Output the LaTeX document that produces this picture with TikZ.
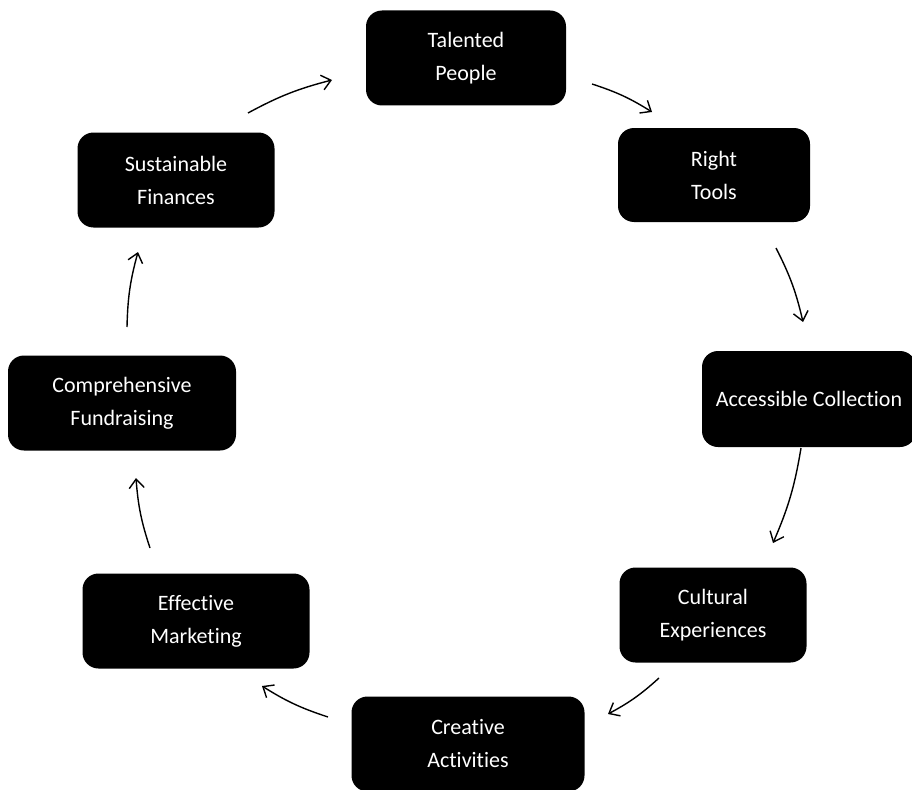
\documentclass[tikz,border=0pt]{standalone}
\usepackage{fontspec}
\setmainfont[Ligatures=NoCommon]{Carlito}
\usetikzlibrary{calc,arrows.meta}
\begin{document}
\begin{tikzpicture}[x=1pt,y=1pt,
  box/.style={fill=black, rounded corners=16pt, text=white, align=center,
    inner sep=0pt, font=\fontsize{22}{33}\selectfont},
  arr/.style={line width=1.4pt, -{Straight Barb[length=9pt,width=15pt,line width=1.4pt]}, bend left=7}]
\useasboundingbox (0,0) rectangle (912,-789);
\node[box, minimum width=200pt, minimum height=95pt] (tp) at (466,-58) {Talented\\People};
\node[box, minimum width=192pt, minimum height=94pt] (rt) at (714,-175) {Right\\Tools};
\node[box, minimum width=214pt, minimum height=96pt] (ac) at (809,-399) {Accessible Collection};
\node[box, minimum width=187pt, minimum height=95pt] (ce) at (713,-615) {Cultural\\Experiences};
\node[box, minimum width=233pt, minimum height=95pt] (ca) at (468,-744) {Creative\\Activities};
\node[box, minimum width=227pt, minimum height=95pt] (em) at (196,-621) {Effective\\Marketing};
\node[box, minimum width=228pt, minimum height=95pt] (cf) at (122,-403) {Comprehensive\\Fundraising};
\node[box, minimum width=197pt, minimum height=95pt] (sf) at (176,-180) {Sustainable\\Finances};
\draw[arr] ($(tp)+(126,-26)$) to ($(rt)+(-62,63)$);
\draw[arr] ($(rt)+(62,-73)$) to ($(ac)+(-6,77)$);
\draw[arr] ($(ac)+(-8,-49)$) to ($(ce)+(60,72)$);
\draw[arr] ($(ce)+(-54,-63)$) to ($(ca)+(140,30)$);
\draw[arr] ($(ca)+(-140,27)$) to ($(em)+(66,-65)$);
\draw[arr] ($(em)+(-46,73)$) to ($(cf)+(14,-75)$);
\draw[arr] ($(cf)+(5,76)$) to ($(sf)+(-38,-72)$);
\draw[arr] ($(sf)+(72,67)$) to ($(tp)+(-134,-22)$);
\end{tikzpicture}
\end{document}
